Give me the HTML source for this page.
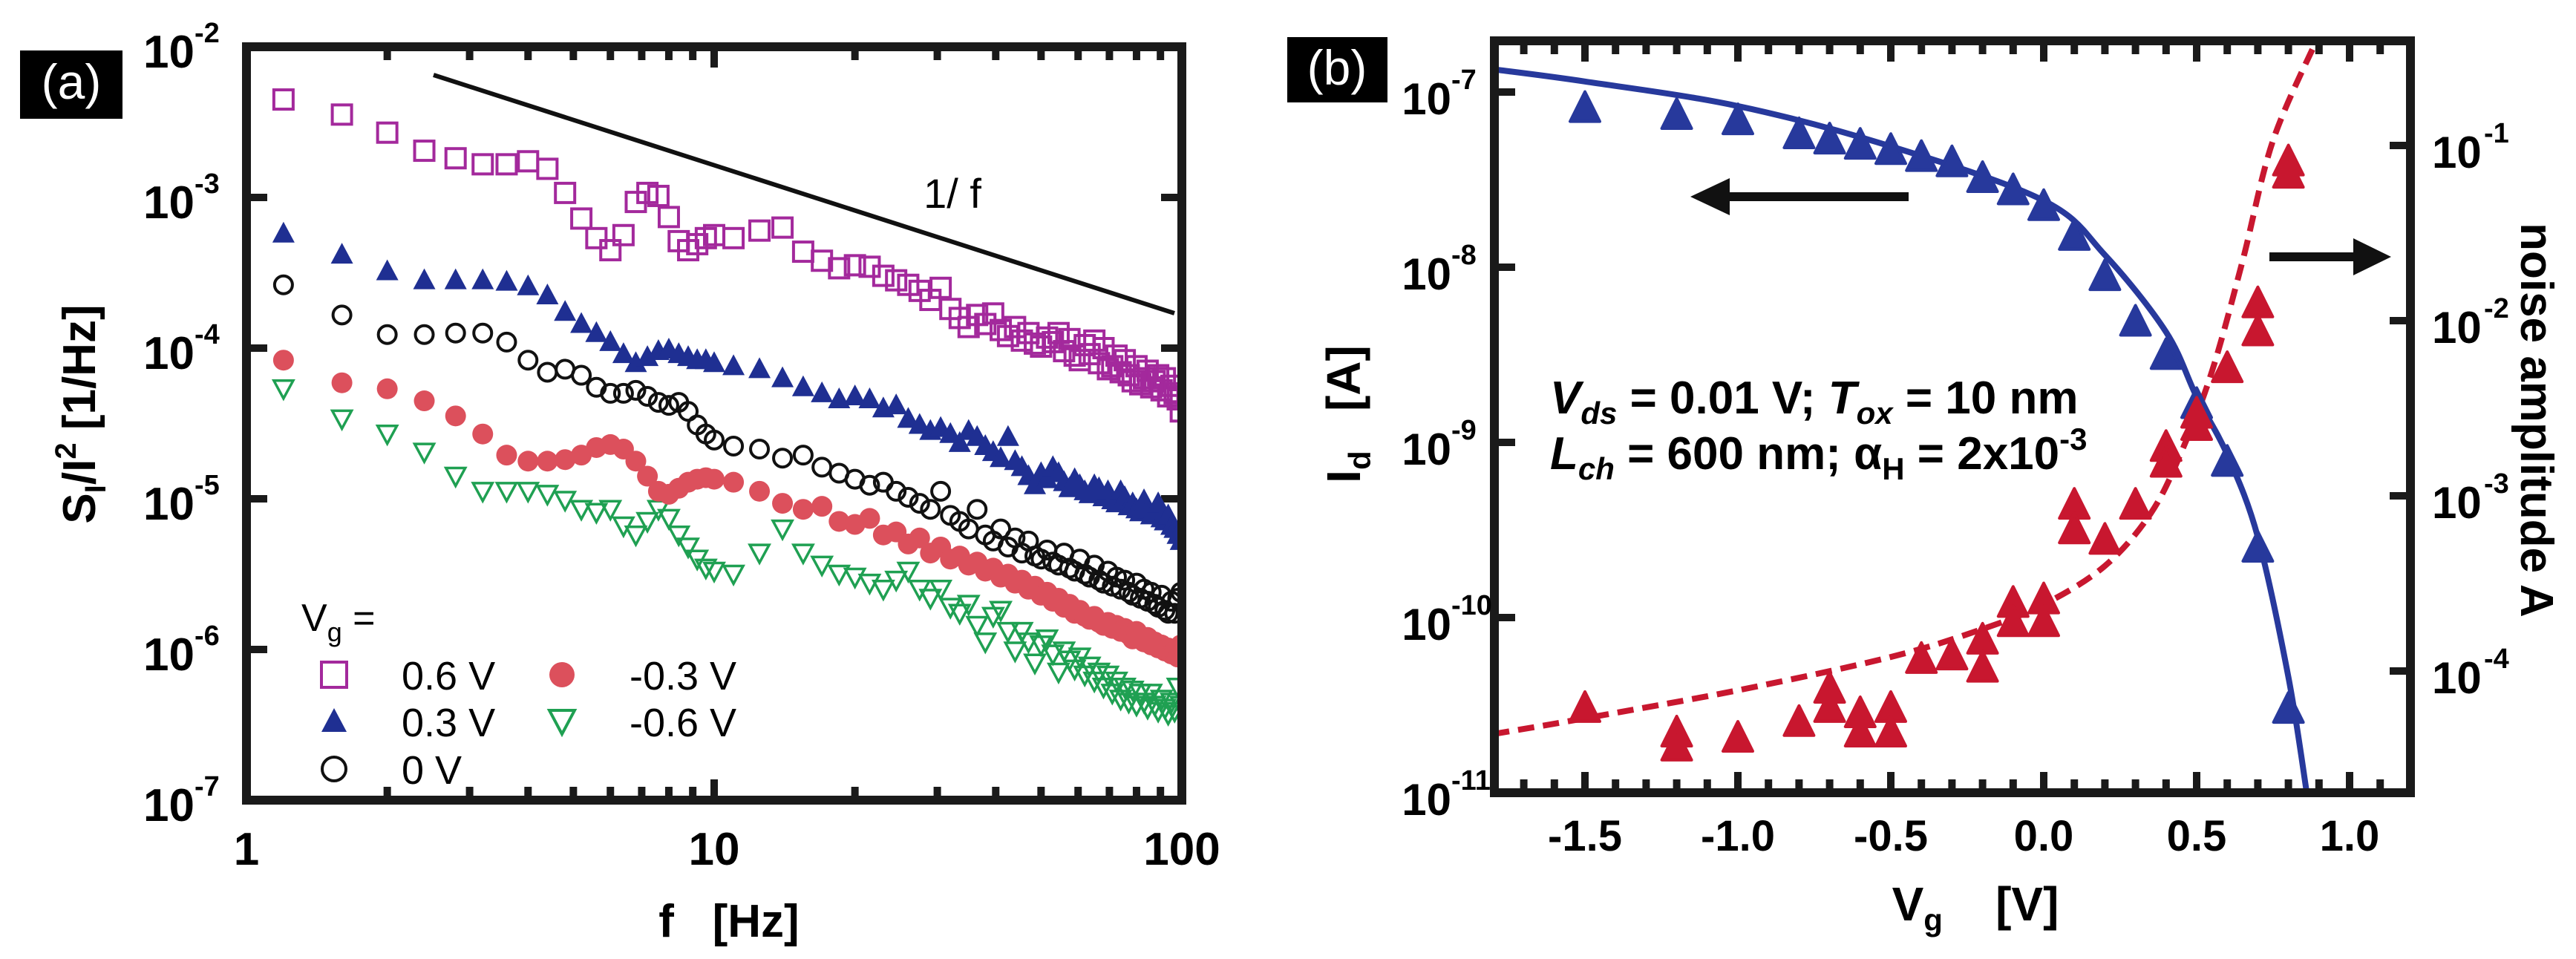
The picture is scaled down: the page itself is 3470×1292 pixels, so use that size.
<!DOCTYPE html>
<html><head><meta charset="utf-8"><style>
html,body{margin:0;padding:0;background:#fff;}
svg{display:block;font-family:"Liberation Sans",sans-serif;}
</style></head><body>
<svg id="fig" width="3470" height="1292" viewBox="0 0 3470 1292" xmlns="http://www.w3.org/2000/svg">
<defs>
<clipPath id="clipA"><rect x="338" y="69" width="1248" height="1003"/></clipPath>
<clipPath id="clipB"><rect x="2019" y="61" width="1222" height="1001"/></clipPath>
</defs>
<g>
<rect x="27" y="68" width="138" height="92" fill="#000"/>
<text x="96" y="133" font-size="66" fill="#fff" text-anchor="middle">(a)</text></g>
<g>
<rect x="1734" y="50" width="135" height="88" fill="#000"/>
<text x="1801" y="114" font-size="66" fill="#fff" text-anchor="middle">(b)</text></g>

<text transform="translate(128,558) rotate(-90)" font-size="62" font-weight="bold" text-anchor="middle">S<tspan font-size="40" dy="14">I</tspan><tspan dy="-14">/I</tspan><tspan font-size="40" dy="-26">2</tspan><tspan dy="26">   [1/Hz]</tspan></text>
<text x="982" y="1262" font-size="62" font-weight="bold" text-anchor="middle" xml:space="preserve">f   [Hz]</text>
<text x="1283" y="280" font-size="56" text-anchor="middle">1/ f</text>
<line x1="584" y1="101" x2="1582" y2="422" stroke="#111" stroke-width="6"/>

<text transform="translate(1832,558) rotate(-90)" font-size="64" font-weight="bold" text-anchor="middle" xml:space="preserve">I<tspan font-size="42" dy="14">d</tspan><tspan dy="-14">   [A]</tspan></text>
<text transform="translate(3396,566) rotate(90)" font-size="62" font-weight="bold" text-anchor="middle">noise amplitude A</text>
<text x="2661" y="1240" font-size="64" font-weight="bold" text-anchor="middle" xml:space="preserve">V<tspan font-size="42" dy="14">g</tspan><tspan dy="-14">    [V]</tspan></text>
<g font-size="62" font-weight="bold">
<text x="2088" y="557"><tspan font-style="italic">V</tspan><tspan font-size="42" dy="14" font-style="italic">ds</tspan><tspan dy="-14"> = 0.01 V; </tspan><tspan font-style="italic">T</tspan><tspan font-size="42" dy="14" font-style="italic">ox</tspan><tspan dy="-14"> = 10 nm</tspan></text>
<text x="2088" y="632"><tspan font-style="italic">L</tspan><tspan font-size="42" dy="14" font-style="italic">ch</tspan><tspan dy="-14"> = 600 nm; α</tspan><tspan font-size="42" dy="14">H</tspan><tspan dy="-14"> = 2x10</tspan><tspan font-size="42" dy="-26">-3</tspan></text>
</g>
<g><line x1="2571" y1="265" x2="2320" y2="265" stroke="#111" stroke-width="12"/><polygon points="2277,265 2330,240 2330,290" fill="#111"/></g>
<g><line x1="3057" y1="346" x2="3180" y2="346" stroke="#111" stroke-width="12"/><polygon points="3221,346 3170,321 3170,371" fill="#111"/></g>

<g id="gA"></g>
<g id="gB"></g>
</svg>
<script>
const freqs = [1.2,1.6,2.0,2.4,2.8,3.2,3.6,4.0,4.4,4.8,5.2,5.6,6.0,6.4,6.8,7.2,7.6,8.0,8.4,8.8,9.2,9.6,10,
11,12.5,14,15.5,17,18.5,20,21.5,23,24.5,26,27.5,29,30.5,32,33.5,35,36.5,38,39.5,41,42.5,44,45.5,47,48.5,50,51.5,53,54.5,56,57.5,59,60.5,62,63.5,65,66.5,68,69.5,71,72.5,74,75.5,77,78.5,80,81.5,83,84.5,86,87.5,89,90.5,92,93.5,95,96.5,98,99.5];
const logP06 = [-2.35,-2.45,-2.57,-2.69,-2.74,-2.78,-2.78,-2.76,-2.81,-2.97,-3.14,-3.27,-3.35,-3.25,-3.03,-2.97,-2.99,-3.13,-3.29,-3.35,-3.31,-3.27,-3.25,
-3.27,-3.22,-3.20,-3.36,-3.42,-3.47,-3.45,-3.46,-3.52,-3.55,-3.58,-3.62,-3.68,-3.60,-3.74,-3.80,-3.86,-3.78,-3.84,-3.77,-3.88,-3.92,-3.86,-3.95,-3.90,-3.97,-3.99,-3.93,-3.96,-3.90,-4.02,-3.94,-4.05,-4.08,-3.98,-4.04,-3.95,-4.10,-4.00,-4.14,-4.12,-4.05,-4.16,-4.08,-4.18,-4.22,-4.12,-4.24,-4.20,-4.15,-4.26,-4.22,-4.18,-4.28,-4.20,-4.32,-4.25,-4.30,-4.34,-4.42];
const logP03 = [-3.24,-3.38,-3.49,-3.55,-3.55,-3.55,-3.56,-3.59,-3.65,-3.76,-3.84,-3.90,-3.96,-4.04,-4.10,-4.06,-4.02,-4.01,-4.04,-4.06,-4.08,-4.08,-4.10,
-4.12,-4.14,-4.20,-4.26,-4.30,-4.34,-4.32,-4.34,-4.40,-4.38,-4.47,-4.51,-4.55,-4.53,-4.57,-4.63,-4.55,-4.59,-4.65,-4.69,-4.73,-4.59,-4.75,-4.79,-4.85,-4.91,-4.83,-4.87,-4.79,-4.83,-4.89,-4.93,-4.87,-4.91,-4.95,-4.97,-4.91,-4.93,-4.99,-4.95,-5.01,-5.03,-4.95,-4.99,-5.05,-5.03,-5.07,-5.09,-5.01,-5.07,-5.11,-5.09,-5.03,-5.13,-5.15,-5.11,-5.18,-5.20,-5.24,-5.28];
const log0 = [-3.58,-3.78,-3.91,-3.91,-3.90,-3.90,-3.96,-4.08,-4.16,-4.14,-4.18,-4.26,-4.30,-4.30,-4.28,-4.32,-4.36,-4.38,-4.36,-4.42,-4.51,-4.57,-4.61,
-4.65,-4.67,-4.73,-4.71,-4.79,-4.83,-4.87,-4.91,-4.89,-4.95,-4.99,-5.03,-5.07,-4.95,-5.11,-5.15,-5.20,-5.07,-5.24,-5.28,-5.20,-5.32,-5.26,-5.36,-5.28,-5.38,-5.40,-5.34,-5.42,-5.44,-5.36,-5.46,-5.48,-5.40,-5.50,-5.52,-5.44,-5.54,-5.56,-5.48,-5.58,-5.52,-5.60,-5.54,-5.62,-5.64,-5.56,-5.66,-5.60,-5.68,-5.62,-5.70,-5.72,-5.64,-5.74,-5.76,-5.68,-5.76,-5.66,-5.62];
const logM03 = [-4.08,-4.23,-4.27,-4.35,-4.45,-4.57,-4.71,-4.75,-4.75,-4.74,-4.71,-4.66,-4.64,-4.67,-4.75,-4.85,-4.95,-4.97,-4.93,-4.89,-4.87,-4.86,-4.87,
-4.89,-4.95,-5.03,-5.07,-5.05,-5.15,-5.17,-5.13,-5.24,-5.22,-5.30,-5.26,-5.36,-5.32,-5.40,-5.38,-5.44,-5.42,-5.48,-5.46,-5.52,-5.50,-5.56,-5.54,-5.60,-5.58,-5.64,-5.62,-5.68,-5.66,-5.72,-5.70,-5.76,-5.74,-5.78,-5.80,-5.78,-5.82,-5.84,-5.82,-5.86,-5.84,-5.88,-5.86,-5.90,-5.93,-5.88,-5.93,-5.95,-5.92,-5.97,-5.95,-5.99,-5.97,-6.01,-5.99,-6.03,-6.01,-6.05,-5.97];
const logM06 = [-4.27,-4.47,-4.57,-4.69,-4.85,-4.95,-4.95,-4.95,-4.97,-5.01,-5.07,-5.09,-5.07,-5.18,-5.24,-5.15,-5.07,-5.13,-5.24,-5.32,-5.40,-5.46,-5.48,
-5.50,-5.36,-5.20,-5.36,-5.44,-5.50,-5.52,-5.56,-5.60,-5.54,-5.48,-5.60,-5.66,-5.60,-5.72,-5.76,-5.70,-5.84,-5.95,-5.78,-5.74,-5.88,-6.01,-5.88,-5.95,-6.09,-5.97,-5.93,-6.03,-6.15,-6.01,-6.07,-6.13,-6.05,-6.17,-6.11,-6.21,-6.15,-6.25,-6.17,-6.29,-6.21,-6.33,-6.25,-6.35,-6.27,-6.37,-6.29,-6.35,-6.39,-6.29,-6.37,-6.41,-6.33,-6.39,-6.43,-6.35,-6.41,-6.25,-6.37];
const yTicksA = ["-2","-3","-4","-5","-6","-7"];
const xTicksA = ["1","10","100"];

const vgId = [-1.5,-1.2,-1.0,-0.8,-0.7,-0.6,-0.5,-0.4,-0.3,-0.2,-0.1,0.0,0.1,0.2,0.3,0.4,0.5,0.6,0.7,0.8];
const logId = [-7.10,-7.14,-7.17,-7.25,-7.28,-7.31,-7.34,-7.38,-7.41,-7.50,-7.57,-7.66,-7.83,-8.06,-8.32,-8.51,-8.79,-9.12,-9.61,-10.53];
const vgIdFit = [-1.8,-1.5,-1.0,-0.5,0.0,0.2,0.4,0.5,0.6,0.7,0.8,0.86];
const logIdFit = [-6.87,-6.94,-7.08,-7.31,-7.62,-7.93,-8.37,-8.74,-9.07,-9.54,-10.34,-11.0];
const vgA = [-1.5,-1.2,-1.2,-1.0,-0.8,-0.7,-0.7,-0.6,-0.6,-0.5,-0.5,-0.4,-0.3,-0.2,-0.2,-0.1,-0.1,0.0,0.0,0.1,0.1,0.2,0.3,0.4,0.4,0.5,0.5,0.6,0.7,0.7,0.8,0.8];
const logA = [-4.22,-4.36,-4.44,-4.39,-4.30,-4.22,-4.11,-4.25,-4.36,-4.22,-4.36,-3.94,-3.92,-3.83,-3.99,-3.62,-3.73,-3.60,-3.73,-3.06,-3.20,-3.26,-3.06,-2.73,-2.82,-2.54,-2.61,-2.28,-1.91,-2.07,-1.10,-1.17];
const vgAFit = [-1.8,-1.5,-1.0,-0.5,-0.2,0.0,0.2,0.35,0.45,0.55,0.65,0.75,0.9];
const logAFit = [-4.36,-4.27,-4.11,-3.92,-3.76,-3.62,-3.40,-3.10,-2.75,-2.29,-1.66,-0.97,-0.37];
const xTicksB = ["-1.5","-1.0","-0.5","0.0","0.5","1.0"];
const yTicksBL = ["-7","-8","-9","-10","-11"];
const yTicksBR = ["-1","-2","-3","-4"];

const NS = "http://www.w3.org/2000/svg";
function mk(parent, tag, attrs){const e=document.createElementNS(NS,tag);for(const k in attrs)e.setAttribute(k,attrs[k]);parent.appendChild(e);return e;}
const xa = f => 332 + 630*Math.log10(f);
const ya = L => 63 + (-2 - L)*203;
const xb = v => 2135 + (v+1.5)*412;
const ybL = L => 124 + (-7 - L)*236;
const ybR = L => 196 + (-1 - L)*236;

function smooth(pts){
  let d = 'M'+pts[0][0].toFixed(1)+','+pts[0][1].toFixed(1);
  for (let i=0;i<pts.length-1;i++){
    const p0=pts[Math.max(0,i-1)], p1=pts[i], p2=pts[i+1], p3=pts[Math.min(pts.length-1,i+2)];
    const c1=[p1[0]+(p2[0]-p0[0])/6, p1[1]+(p2[1]-p0[1])/6];
    const c2=[p2[0]-(p3[0]-p1[0])/6, p2[1]-(p3[1]-p1[1])/6];
    d += ' C'+c1[0].toFixed(1)+','+c1[1].toFixed(1)+' '+c2[0].toFixed(1)+','+c2[1].toFixed(1)+' '+p2[0].toFixed(1)+','+p2[1].toFixed(1);
  }
  return d;
}

const gA = document.getElementById('gA');
const gB = document.getElementById('gB');

const frameA = mk(gA,'rect',{x:332,y:63,width:1260,height:1015,fill:'none',stroke:'#1a1a1a','stroke-width':12});


for (let d=0; d<=2; d++){
  for (let m=1; m<=9; m++){
    const f = Math.pow(10,d)*m; if (f>100) break;
    const x = xa(f); const len = (m===1)?28:18;
    if (m===1 && (d===0)) continue;
    const t1 = mk(gA,'line',{x1:x,y1:1078,x2:x,y2:1078-len,stroke:'#1a1a1a','stroke-width':10});
    
    
    const t2 = mk(gA,'line',{x1:x,y1:63,x2:x,y2:63+len,stroke:'#1a1a1a','stroke-width':10});
    
    
  }
}
xTicksA.forEach((s)=>{
  const t = mk(gA,'text',{x:xa(+s),y:1165,'font-size':62,'font-weight':'bold','text-anchor':'middle'});
  t.textContent = s;
  
  
});
yTicksA.forEach((s)=>{
  const y = ya(+s);
  const l1 = mk(gA,'line',{x1:332,y1:y,x2:360,y2:y,stroke:'#1a1a1a','stroke-width':10});
  
  
  const l2 = mk(gA,'line',{x1:1592,y1:y,x2:1564,y2:y,stroke:'#1a1a1a','stroke-width':10});
  
  
  const t = mk(gA,'text',{x:262,y:y+28,'font-size':62,'font-weight':'bold','text-anchor':'end'});
  t.textContent = '10';
  
  
  const sup = mk(gA,'text',{x:262,y:y-6,'font-size':38,'font-weight':'bold'});
  sup.textContent = s;
  
  
});

const clipGA = mk(gA,'g',{'clip-path':'url(#clipA)'});
function marker(g, type, x, y, color){
  let e;
  if (type==='sq') e = mk(g,'rect',{x:x-13,y:y-13,width:26,height:26,fill:'none',stroke:color,'stroke-width':4});
  else if (type==='tri') e = mk(g,'polygon',{points:`${x},${y-16} ${x-15},${y+12} ${x+15},${y+12}`,fill:color});
  else if (type==='circ') e = mk(g,'circle',{cx:x,cy:y,r:12,fill:'none',stroke:color,'stroke-width':4});
  else if (type==='dot') e = mk(g,'circle',{cx:x,cy:y,r:14,fill:color});
  else if (type==='tdn') e = mk(g,'polygon',{points:`${x-13},${y-11} ${x+13},${y-11} ${x},${y+13}`,fill:'none',stroke:color,'stroke-width':3.5});
  else if (type==='tri2') e = mk(g,'polygon',{points:`${x},${y-18} ${x-17},${y+14} ${x+17},${y+14}`,fill:color});
  else if (type==='tri3') e = mk(g,'polygon',{points:`${x},${y-24} ${x-20},${y+16} ${x+20},${y+16}`,fill:color,stroke:color,'stroke-width':4,'stroke-linejoin':'round'});
  return e;
}
const seriesA = [
  {vals:logM06,type:'tdn',color:'#1fa052',name:'series-minus-0.6V'},
  {vals:logM03,type:'dot',color:'#dc505c',name:'series-minus-0.3V'},
  {vals:log0,type:'circ',color:'#111111',name:'series-0V'},
  {vals:logP03,type:'tri',color:'#1f2f92',name:'series-0.3V'},
  {vals:logP06,type:'sq',color:'#a3299c',name:'series-0.6V'}
];
seriesA.forEach(s=>{
  const g = mk(clipGA,'g',{});
  
  
  freqs.forEach((f,i)=>{
    const e = marker(g, s.type, xa(f), ya(s.vals[i]), s.color);
    
    
  });
});

const leg = mk(gA,'g',{});


const lt = mk(leg,'text',{x:406,y:850,'font-size':52});
lt.innerHTML = 'V<tspan font-size="36" dy="14">g</tspan><tspan dy="-14"> =</tspan>';


const legItems = [
  {type:'sq',color:'#a3299c',label:'0.6 V',x:450,y:909},
  {type:'tri2',color:'#1f2f92',label:'0.3 V',x:450,y:972},
  {type:'circ',color:'#111111',label:'0 V',x:450,y:1036},
  {type:'dot',color:'#dc505c',label:'-0.3 V',x:757,y:909},
  {type:'tdn',color:'#1fa052',label:'-0.6 V',x:757,y:972}
];
legItems.forEach(it=>{
  const g = mk(leg,'g',{});
  
  
  const m = (it.type==='sq') ? mk(g,'rect',{x:it.x-17,y:it.y-17,width:34,height:34,fill:'none',stroke:it.color,'stroke-width':4}) :
            (it.type==='circ') ? mk(g,'circle',{cx:it.x,cy:it.y,r:16,fill:'none',stroke:it.color,'stroke-width':4}) :
            (it.type==='dot') ? mk(g,'circle',{cx:it.x,cy:it.y,r:17,fill:it.color}) :
            (it.type==='tdn') ? mk(g,'polygon',{points:`${it.x-17},${it.y-15} ${it.x+17},${it.y-15} ${it.x},${it.y+17}`,fill:'none',stroke:it.color,'stroke-width':4}) :
            marker(g,'tri2',it.x,it.y,it.color);
  
  
  const t = mk(g,'text',{x:it.x+91,y:it.y+20,'font-size':54});
  t.textContent = it.label;
  
  
});

const frameB = mk(gB,'rect',{x:2013,y:55,width:1234,height:1013,fill:'none',stroke:'#1a1a1a','stroke-width':12});


for (let k=-18; k<=12; k++){
  const v = k/10; const x = xb(v);
  if (x<2020 || x>3240) continue;
  const major = (k%5===0); const len = major?28:18;
  const t1 = mk(gB,'line',{x1:x,y1:1068,x2:x,y2:1068-len,stroke:'#1a1a1a','stroke-width':10});
  
  
  const t2 = mk(gB,'line',{x1:x,y1:55,x2:x,y2:55+len,stroke:'#1a1a1a','stroke-width':10});
  
  
}
xTicksB.forEach(s=>{
  const t = mk(gB,'text',{x:xb(+s),y:1146,'font-size':58,'font-weight':'bold','text-anchor':'middle'});
  t.textContent = s;
  
  
});
yTicksBL.forEach(s=>{
  const y = ybL(+s);
  const l = mk(gB,'line',{x1:2013,y1:y,x2:2041,y2:y,stroke:'#1a1a1a','stroke-width':10});
  
  
  const t = mk(gB,'text',{x:1955,y:y+30,'font-size':60,'font-weight':'bold','text-anchor':'end'});
  t.textContent = '10';
  
  
  const sup = mk(gB,'text',{x:1955,y:y-4,'font-size':38,'font-weight':'bold'});
  sup.textContent = s;
  
  
});
yTicksBR.forEach(s=>{
  const y = ybR(+s);
  const l = mk(gB,'line',{x1:3247,y1:y,x2:3219,y2:y,stroke:'#1a1a1a','stroke-width':10});
  
  
  const t = mk(gB,'text',{x:3276,y:y+30,'font-size':60,'font-weight':'bold'});
  t.textContent = '10';
  
  
  const sup = mk(gB,'text',{x:3346,y:y-4,'font-size':38,'font-weight':'bold'});
  sup.textContent = s;
  
  
});

const clipGB = mk(gB,'g',{'clip-path':'url(#clipB)'});
const pathId = smooth(vgIdFit.map((v,i)=>[xb(v), ybL(logIdFit[i])]));
const fitId = mk(clipGB,'path',{d:pathId,fill:'none',stroke:'#27399c','stroke-width':8,'stroke-linejoin':'round'});


const pathA = smooth(vgAFit.map((v,i)=>[xb(v), ybR(logAFit[i])]));
const fitA = mk(clipGB,'path',{d:pathA,fill:'none',stroke:'#c8172f','stroke-width':8,'stroke-dasharray':'22 12','stroke-linejoin':'round'});


const gId = mk(clipGB,'g',{});


vgId.forEach((v,i)=>{
  const e = marker(gId,'tri3',xb(v),ybL(logId[i]),'#27399c');
  
  
});
const gNA = mk(clipGB,'g',{});


vgA.forEach((v,i)=>{
  const e = marker(gNA,'tri3',xb(v),ybR(logA[i]),'#c8172f');
  
  
});
</script>
</body></html>
